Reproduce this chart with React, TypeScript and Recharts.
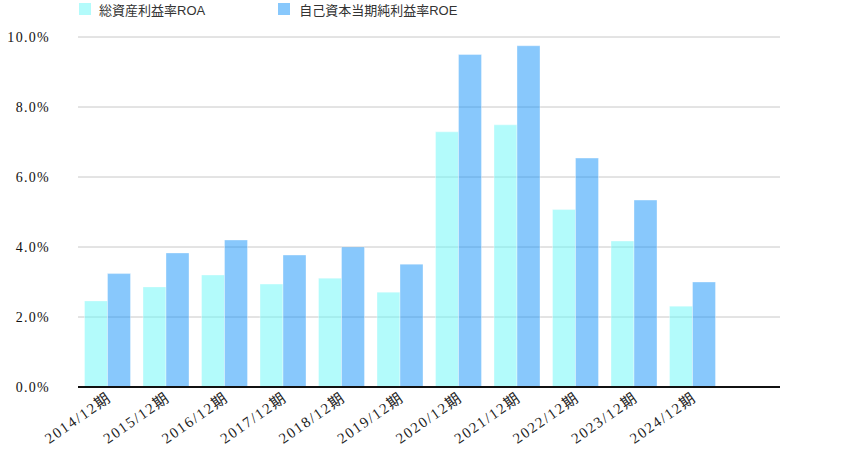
import { BarChart, Bar, XAxis, YAxis, CartesianGrid, Legend } from 'recharts'

const periods = [
  '2014/12期', '2015/12期', '2016/12期', '2017/12期', '2018/12期', '2019/12期',
  '2020/12期', '2021/12期', '2022/12期', '2023/12期', '2024/12期',
]
const roa = [2.46, 2.86, 3.2, 2.94, 3.11, 2.71, 7.29, 7.49, 5.07, 4.17, 2.31]
const roe = [3.24, 3.83, 4.2, 3.77, 4.0, 3.51, 9.5, 9.75, 6.54, 5.34, 3.0]
const yTicks = [0, 2, 4, 6, 8, 10]

const ROA_LABEL = '総資産利益率ROA'
const ROE_LABEL = '自己資本当期純利益率ROE'

// one empty slot after the last period, as in the original
const data = [
  ...periods.map((p, i) => ({ name: p, roa: roa[i], roe: roe[i] })),
  { name: '', roa: null, roe: null },
]

const SERIF = '"Liberation Serif", "Noto Sans CJK JP", serif'

const XTick = ({ x, y, payload }: any) => {
  if (!payload.value) return null
  const tx = x + 5
  const ty = y + 5
  return (
    <text
      x={tx}
      y={ty}
      textAnchor="end"
      transform={`rotate(-35, ${tx}, ${ty})`}
      style={{ fontFamily: SERIF, fontSize: 15, letterSpacing: 1.6, fill: '#222' }}
    >
      {payload.value}
    </text>
  )
}

const YTick = ({ x, y, payload }: any) => (
  <text
    x={x}
    y={y}
    dy={5}
    textAnchor="end"
    style={{ fontFamily: SERIF, fontSize: 14, letterSpacing: 1.3, fill: '#111' }}
  >
    {`${payload.value.toFixed(1)}%`}
  </text>
)

const LegendBox = () => (
  <div style={{ display: 'flex', height: 18, alignItems: 'center', paddingLeft: 79, fontFamily: '"Liberation Sans", "Noto Sans CJK JP", sans-serif', fontSize: 13, color: '#333' }}>
    <span style={{ display: 'inline-block', width: 12, height: 12, background: '#b3fbfb', marginRight: 8 }} />
    <span style={{ marginRight: 73 }}>{ROA_LABEL}</span>
    <span style={{ display: 'inline-block', width: 12, height: 12, background: '#88c8fc', marginRight: 9 }} />
    <span>{ROE_LABEL}</span>
  </div>
)

export default function App() {
  return (
    <div style={{ position: 'absolute', left: 0, top: 0, background: '#fff' }}>
      <BarChart
        width={845}
        height={449}
        data={data}
        margin={{ top: 19, right: 65, bottom: 0, left: 0 }}
        barCategoryGap={6.5}
        barGap={0}
      >
        <Legend verticalAlign="top" align="left" content={<LegendBox />} wrapperStyle={{ top: 0, left: 0 }} />
        <CartesianGrid vertical={false} stroke="#c8c8c8" />
        <XAxis
          dataKey="name"
          height={62}
          interval={0}
          tickLine={false}
          axisLine={{ stroke: '#111', strokeWidth: 2 }}
          tick={<XTick />}
        />
        <YAxis
          width={78}
          domain={[0, 10]}
          ticks={yTicks}
          axisLine={false}
          tickLine={false}
          tickMargin={22}
          tick={<YTick />}
        />
        <Bar dataKey="roa" name={ROA_LABEL} fill="#67f7f7" fillOpacity={0.5} stroke="#ffffff" strokeOpacity={0.35} isAnimationActive={false} />
        <Bar dataKey="roe" name={ROE_LABEL} fill="#1191f9" fillOpacity={0.5} stroke="#ffffff" strokeOpacity={0.35} isAnimationActive={false} />
      </BarChart>
    </div>
  )
}
